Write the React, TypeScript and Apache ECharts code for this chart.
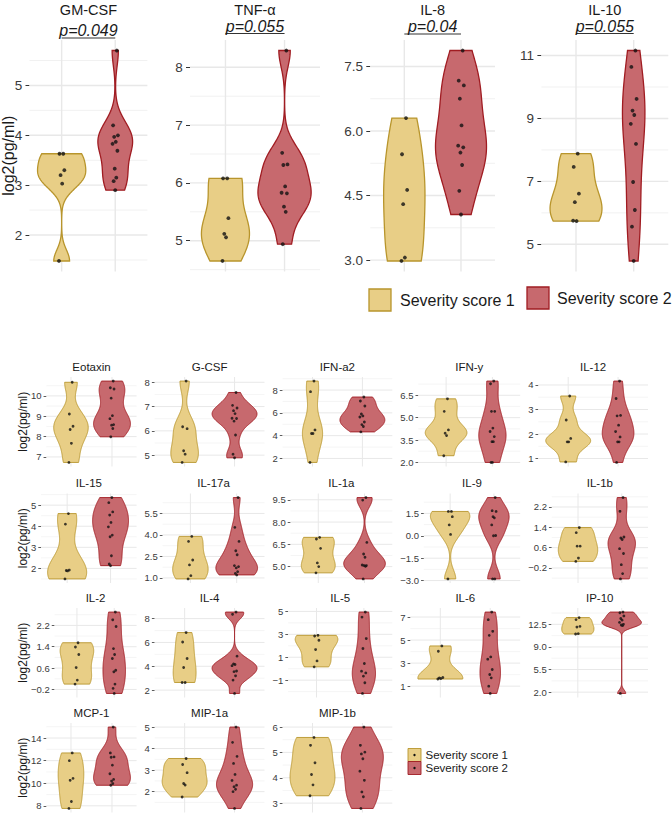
import React, { useEffect, useRef } from "react";
import * as echarts from "echarts";

const FONT = "'Liberation Sans', Arial, Helvetica, sans-serif";

// ---------------- Top figure data ----------------
const TOP_TITLES = ["GM-CSF", "TNF-α", "IL-8", "IL-10"];
const TOP_PVALUES = ["p=0.049", "p=0.055", "p=0.04", "p=0.055"];

const GMCSF_S1 = [3.63, 3.63, 3.3, 3.2, 3.03, 1.48];
const GMCSF_S2 = [5.7, 4.2, 4.0, 3.97, 3.87, 3.83, 3.69, 3.33, 3.15, 3.08, 2.9];
const GMCSF_TICKS = ["2", "3", "4", "5"];

const TNF_S1 = [6.08, 6.08, 5.39, 5.12, 5.06, 4.65];
const TNF_S2 = [8.29, 6.52, 6.32, 6.31, 5.94, 5.83, 5.82, 5.59, 5.5, 4.94];
const TNF_TICKS = ["5", "6", "7", "8"];

const IL8_S1 = [6.3, 5.46, 4.63, 4.3, 3.06, 2.98];
const IL8_S2 = [7.87, 7.17, 7.06, 6.75, 6.13, 5.66, 5.62, 5.5, 5.21, 4.61, 4.06];
const IL8_TICKS = ["3.0", "4.5", "6.0", "7.5"];

const IL10_S1 = [7.88, 7.46, 6.61, 6.34, 5.74, 5.75];
const IL10_S2 = [11.16, 10.64, 9.62, 9.25, 9.11, 8.83, 8.19, 6.98, 6.09, 5.56, 4.47];
const IL10_TICKS = ["5", "7", "9", "11"];

// ---------------- Bottom figure data ----------------
const BOTTOM_TITLES = [
  "Eotaxin", "G-CSF", "IFN-a2", "IFN-y", "IL-12",
  "IL-15", "IL-17a", "IL-1a", "IL-9", "IL-1b",
  "IL-2", "IL-4", "IL-5", "IL-6", "IP-10",
  "MCP-1", "MIP-1a", "MIP-1b",
];

const EOTAXIN_S1 = [10.67, 9.11, 8.51, 8.35, 7.67, 6.73];
const EOTAXIN_S2 = [10.73, 10.4, 10.34, 9.89, 9.03, 8.88, 8.59, 8.56, 8.4, 7.99];
const EOTAXIN_TICKS = ["7", "8", "9", "10"];

const GCSF_S1 = [8.05, 6.17, 6.09, 5.18, 5.04, 4.7];
const GCSF_S2 = [7.58, 7.05, 6.94, 6.83, 6.71, 6.52, 6.51, 6.4, 5.83, 5.04, 4.89];
const GCSF_TICKS = ["5", "6", "7", "8"];

const IFNA2_S1 = [8.79, 7.86, 4.5, 4.19, 4.19, 1.65];
const IFNA2_S2 = [7.39, 7.04, 6.6, 5.9, 5.73, 5.64, 5.2, 4.97, 4.8, 4.33];
const IFNA2_TICKS = ["2", "4", "6", "8"];

const IFNY_S1 = [6.26, 5.42, 4.18, 3.96, 3.8, 2.45];
const IFNY_S2 = [7.45, 7.27, 5.42, 5.42, 4.3, 4.07, 3.73, 3.39, 3.39, 2.0, 2.0];
const IFNY_TICKS = ["2.0", "3.5", "5.0", "6.5"];

const IL12_S1 = [3.55, 2.57, 1.82, 1.68, 1.68, 0.86];
const IL12_S2 = [4.16, 3.45, 2.76, 2.74, 2.36, 2.1, 1.88, 1.68, 1.68, 0.84];
const IL12_TICKS = ["1", "2", "3", "4"];

const IL15_S1 = [4.6, 4.1, 1.92, 1.9, 1.88, 1.5];
const IL15_S2 = [5.36, 5.12, 4.68, 4.53, 4.18, 3.97, 3.58, 3.5, 2.6, 2.21, 2.13];
const IL15_TICKS = ["2", "3", "4", "5"];

const IL17A_S1 = [3.9, 3.55, 2.25, 1.91, 1.16, 0.93];
const IL17A_S2 = [6.61, 4.53, 3.55, 2.9, 2.62, 1.86, 1.79, 1.7, 1.44, 1.32, 1.21];
const IL17A_TICKS = ["1.0", "2.5", "4.0", "5.5"];

const IL1A_S1 = [6.97, 6.86, 6.23, 5.25, 5.0, 4.58];
const IL1A_S2 = [9.65, 9.48, 6.63, 5.85, 5.63, 5.11, 5.07, 5.07, 5.02, 4.17];
const IL1A_TICKS = ["5.0", "6.5", "8.0", "9.5"];

const IL9_S1 = [1.63, 1.63, 1.28, 0.73, 0.09, -2.89];
const IL9_S2 = [2.56, 1.68, 1.63, 1.28, 1.2, 0.73, 0.02, 0.0, -2.89, -2.89];
const IL9_TICKS = ["−3.0", "−1.5", "0.0", "1.5"];

const IL1B_S1 = [1.39, 1.19, 0.66, 0.66, 0.19, 0.06];
const IL1B_S2 = [2.57, 2.03, 1.02, 0.98, 0.92, 0.56, 0.37, -0.07, -0.42, -0.63];
const IL1B_TICKS = ["−0.2", "0.6", "1.4", "2.2"];

const IL2_S1 = [1.55, 1.39, 1.11, 0.62, 0.15, 0.0];
const IL2_S2 = [2.7, 2.41, 2.16, 1.33, 1.11, 0.96, 0.52, 0.46, 0.0, -0.16, -0.35];
const IL2_TICKS = ["−0.2", "0.6", "1.4", "2.2"];

const IL4_S1 = [6.83, 6.04, 4.65, 3.9, 2.64, 2.64];
const IL4_S2 = [8.55, 8.36, 4.85, 4.2, 4.15, 4.05, 3.6, 3.55, 3.2, 2.84, 1.72];
const IL4_TICKS = ["2", "4", "6", "8"];

const IL5_S1 = [2.91, 2.85, 2.48, 1.67, 0.68, 0.16];
const IL5_S2 = [4.94, 4.5, 2.63, 1.76, 0.45, -0.22, -0.37, -0.65, -1.23, -2.16];
const IL5_TICKS = ["−1", "1", "3", "5"];

const IL6_S1 = [4.49, 4.03, 1.75, 1.72, 1.66, 1.62];
const IL6_S2 = [7.43, 6.77, 5.76, 5.41, 3.54, 3.34, 2.45, 2.01, 1.72, 1.0, 0.37];
const IL6_TICKS = ["1", "3", "5", "7"];

const IP10_S1 = [13.54, 13.23, 12.19, 12.08, 11.06, 11.0];
const IP10_S2 = [14.4, 14.3, 13.8, 13.4, 13.15, 12.8, 12.5, 12.4, 12.3, 1.8];
const IP10_TICKS = ["2.0", "5.5", "9.0", "12.5"];

const MCP1_S1 = [12.68, 12.0, 10.43, 10.26, 8.38, 7.77];
const MCP1_S2 = [14.97, 12.68, 12.33, 12.3, 11.6, 10.84, 10.34, 10.19, 9.97, 9.82];
const MCP1_TICKS = ["8", "10", "12", "14"];

const MIP1A_S1 = [3.54, 3.26, 2.88, 2.38, 2.31, 1.75];
const MIP1A_S2 = [5.0, 4.29, 3.64, 3.31, 2.8, 2.52, 2.3, 2.23, 2.11, 2.0, 1.22];
const MIP1A_TICKS = ["2", "3", "4", "5"];

const MIP1B_S1 = [5.59, 5.28, 4.59, 4.13, 3.72, 3.29];
const MIP1B_S2 = [6.0, 5.28, 5.01, 4.94, 4.75, 4.26, 3.9, 3.44, 3.25, 2.79];
const MIP1B_TICKS = ["3", "4", "5", "6"];

const LEGEND_LABELS = ["Severity score 1", "Severity score 2"];
const Y_TITLE = "log2(pg/ml)";

// small horizontal jitter pattern for dots (category units)
const JITTER = [0.03, -0.04, 0.05, -0.02, 0.01, -0.05, 0.04, -0.01, 0.02, -0.03, 0.0];

// ---------------- styling ----------------
const YELLOW_FILL = "#E8CE86";
const YELLOW_LINE = "#B8952C";
const RED_FILL = "#C7696E";
const RED_LINE = "#A01C22";
const GRID_MAJOR = "#E8E8E8";
const GRID_MINOR = "#F1F1F1";

// ---------------- layout ----------------
const TOP_LEFT = [29.5, 190, 370.3, 541.4];
const TOP_RIGHT = [147.4, 320, 495, 668.3];
const TOP_Y0 = 40;
const TOP_Y1 = 271.5;
const TOP_BRACKET_Y = [38, 33.5, 34, 33.5];

const ROW_TOP = [377, 493.5, 608, 723];
const PANEL_H = 89.5;
const COL_RIGHT = [136.6, 264.5, 392.3, 520.2, 648];
const COL0_LABEL_LEFT = 31;

const TOP_TICK_FS = 13.5;
const BOT_TICK_FS = 9.5;

function charW(c: string) {
  if (c >= "0" && c <= "9") return 0.556;
  if (c === ".") return 0.278;
  if (c === "−") return 0.584;
  if (c === "-") return 0.333;
  return 0.556;
}
function textW(s: string, fs: number) {
  let w = 0;
  for (const c of s) w += charW(c);
  return w * fs;
}
function parseTick(s: string) {
  return parseFloat(s.replace("−", "-"));
}

function bwNrd0(x: number[]) {
  const n = x.length;
  const mean = x.reduce((a, b) => a + b, 0) / n;
  const sd = Math.sqrt(x.reduce((a, b) => a + (b - mean) * (b - mean), 0) / (n - 1));
  const s = [...x].sort((a, b) => a - b);
  const q = (p: number) => {
    const h = (n - 1) * p;
    const lo = Math.floor(h);
    const hi = Math.min(lo + 1, n - 1);
    return s[lo] + (h - lo) * (s[hi] - s[lo]);
  };
  const iqr = q(0.75) - q(0.25);
  let lo = Math.min(sd, iqr / 1.34);
  if (!(lo > 0)) lo = sd || Math.abs(s[0]) || 1;
  return 0.9 * lo * Math.pow(n, -0.2);
}

function profile(x: number[], npts = 160) {
  const bw = bwNrd0(x);
  const mn = Math.min(...x);
  const mx = Math.max(...x);
  const ys: number[] = [];
  const ds: number[] = [];
  const k = 1 / (x.length * bw * Math.sqrt(2 * Math.PI));
  for (let j = 0; j < npts; j++) {
    const y = mn + ((mx - mn) * j) / (npts - 1);
    let s = 0;
    for (const xi of x) {
      const u = (y - xi) / bw;
      s += Math.exp(-0.5 * u * u);
    }
    ys.push(y);
    ds.push(s * k);
  }
  return { ys, ds };
}

type Panel = {
  title: string;
  s1: number[];
  s2: number[];
  ticks: string[];
  left: number;
  right: number;
  top: number;
  bottom: number;
  big: boolean;
  p?: string;
  bracketY?: number;
};

function buildPanels(): Panel[] {
  const panels: Panel[] = [];
  const topS1 = [GMCSF_S1, TNF_S1, IL8_S1, IL10_S1];
  const topS2 = [GMCSF_S2, TNF_S2, IL8_S2, IL10_S2];
  const topTicks = [GMCSF_TICKS, TNF_TICKS, IL8_TICKS, IL10_TICKS];
  for (let i = 0; i < 4; i++) {
    panels.push({
      title: TOP_TITLES[i],
      s1: topS1[i],
      s2: topS2[i],
      ticks: topTicks[i],
      left: TOP_LEFT[i],
      right: TOP_RIGHT[i],
      top: TOP_Y0,
      bottom: TOP_Y1,
      big: true,
      p: TOP_PVALUES[i],
      bracketY: TOP_BRACKET_Y[i],
    });
  }
  const botS1 = [
    EOTAXIN_S1, GCSF_S1, IFNA2_S1, IFNY_S1, IL12_S1,
    IL15_S1, IL17A_S1, IL1A_S1, IL9_S1, IL1B_S1,
    IL2_S1, IL4_S1, IL5_S1, IL6_S1, IP10_S1,
    MCP1_S1, MIP1A_S1, MIP1B_S1,
  ];
  const botS2 = [
    EOTAXIN_S2, GCSF_S2, IFNA2_S2, IFNY_S2, IL12_S2,
    IL15_S2, IL17A_S2, IL1A_S2, IL9_S2, IL1B_S2,
    IL2_S2, IL4_S2, IL5_S2, IL6_S2, IP10_S2,
    MCP1_S2, MIP1A_S2, MIP1B_S2,
  ];
  const botTicks = [
    EOTAXIN_TICKS, GCSF_TICKS, IFNA2_TICKS, IFNY_TICKS, IL12_TICKS,
    IL15_TICKS, IL17A_TICKS, IL1A_TICKS, IL9_TICKS, IL1B_TICKS,
    IL2_TICKS, IL4_TICKS, IL5_TICKS, IL6_TICKS, IP10_TICKS,
    MCP1_TICKS, MIP1A_TICKS, MIP1B_TICKS,
  ];
  for (let k = 0; k < BOTTOM_TITLES.length; k++) {
    const row = Math.floor(k / 5);
    const col = k % 5;
    const labelW = Math.max(...botTicks[k].map((t) => textW(t, BOT_TICK_FS)));
    const base = col === 0 ? COL0_LABEL_LEFT : COL_RIGHT[col - 1] + 8;
    panels.push({
      title: BOTTOM_TITLES[k],
      s1: botS1[k],
      s2: botS2[k],
      ticks: botTicks[k],
      left: base + labelW + 4.8,
      right: COL_RIGHT[col],
      top: ROW_TOP[row],
      bottom: ROW_TOP[row] + PANEL_H,
      big: false,
    });
  }
  return panels;
}

function buildOption() {
  const panels = buildPanels();
  const grid: any[] = [];
  const xAxis: any[] = [];
  const yAxis: any[] = [];
  const series: any[] = [];
  const graphic: any[] = [];

  panels.forEach((p, i) => {
    const all = p.s1.concat(p.s2);
    const lo = Math.min(...all);
    const hi = Math.max(...all);
    const ext = (hi - lo) * 0.05;
    const ymin = lo - ext;
    const ymax = hi + ext;
    const mid = (ymin + ymax) / 2;
    const tickVals = p.ticks.map(parseTick);
    const step = tickVals[1] - tickVals[0];
    const minor: number[] = [];
    for (let t = tickVals[0] - step / 2; t <= tickVals[tickVals.length - 1] + step / 2 + 1e-9; t += step) {
      if (t >= ymin && t <= ymax) minor.push(t);
    }
    const big = p.big;

    grid.push({
      left: p.left,
      top: p.top,
      width: p.right - p.left,
      height: p.bottom - p.top,
      containLabel: false,
      outerBoundsMode: "none",
    });
    xAxis.push({ type: "value", gridIndex: i, min: 0.4, max: 2.6, show: false });
    yAxis.push({
      type: "value",
      gridIndex: i,
      min: ymin,
      max: ymax,
      axisLine: { show: false },
      splitLine: { show: false },
      minorTick: { show: false },
      axisTick: {
        show: true,
        length: big ? 4 : 2.8,
        customValues: tickVals,
        lineStyle: { color: "#333333", width: big ? 1 : 0.8 },
      },
      axisLabel: {
        customValues: tickVals,
        margin: big ? 7.3 : 4.8,
        fontSize: big ? TOP_TICK_FS : BOT_TICK_FS,
        fontFamily: FONT,
        color: "#3A3A3A",
        formatter: (v: number) => {
          let best = 0;
          let bd = Infinity;
          tickVals.forEach((t, j) => {
            const d = Math.abs(t - v);
            if (d < bd) {
              bd = d;
              best = j;
            }
          });
          return p.ticks[best];
        },
      },
    });

    // gridlines
    series.push({
      type: "custom",
      xAxisIndex: i,
      yAxisIndex: i,
      silent: true,
      z: 1,
      data: [[1.5, mid]],
      renderItem: (params: any, api: any) => {
        const cs = params.coordSys;
        const children: any[] = [];
        minor.forEach((v) => {
          const y = api.coord([1, v])[1];
          children.push({
            type: "line",
            shape: { x1: cs.x, y1: y, x2: cs.x + cs.width, y2: y },
            style: { stroke: GRID_MINOR, lineWidth: big ? 1 : 0.7 },
          });
        });
        tickVals.forEach((v) => {
          const y = api.coord([1, v])[1];
          children.push({
            type: "line",
            shape: { x1: cs.x, y1: y, x2: cs.x + cs.width, y2: y },
            style: { stroke: GRID_MAJOR, lineWidth: big ? 1.4 : 1 },
          });
        });
        [1, 2].forEach((c) => {
          const x = api.coord([c, mid])[0];
          children.push({
            type: "line",
            shape: { x1: x, y1: cs.y, x2: x, y2: cs.y + cs.height },
            style: { stroke: GRID_MAJOR, lineWidth: big ? 1.4 : 1 },
          });
        });
        return { type: "group", children };
      },
    });

    // violins (ggplot style: gaussian kde, bw.nrd0, trimmed, scale = "area")
    const profs = [profile(p.s1), profile(p.s2)];
    const maxD = Math.max(...profs[0].ds, ...profs[1].ds);
    const fills = [YELLOW_FILL, RED_FILL];
    const strokes = [YELLOW_LINE, RED_LINE];
    series.push({
      type: "custom",
      xAxisIndex: i,
      yAxisIndex: i,
      silent: true,
      z: 2,
      data: [
        [1, mid],
        [2, mid],
      ],
      renderItem: (params: any, api: any) => {
        const g = params.dataIndex;
        const pr = profs[g];
        const cx = g + 1;
        const leftPts = pr.ys.map((y, j) => api.coord([cx - (0.45 * pr.ds[j]) / maxD, y]));
        const rightPts = pr.ys.map((y, j) => api.coord([cx + (0.45 * pr.ds[j]) / maxD, y])).reverse();
        return {
          type: "polygon",
          shape: { points: leftPts.concat(rightPts) },
          style: { fill: fills[g], stroke: strokes[g], lineWidth: big ? 1.3 : 0.9 },
        };
      },
    });

    // points
    [p.s1, p.s2].forEach((arr, g) => {
      series.push({
        type: "scatter",
        xAxisIndex: i,
        yAxisIndex: i,
        silent: true,
        z: 3,
        symbol: "circle",
        symbolSize: big ? 3.8 : 2.8,
        itemStyle: { color: "#111111" },
        data: arr.map((v, k) => [g + 1 + JITTER[k % JITTER.length], v]),
      });
    });

    // significance bracket
    if (p.p) {
      const pText = p.p;
      const by = p.bracketY as number;
      series.push({
        type: "custom",
        xAxisIndex: i,
        yAxisIndex: i,
        silent: true,
        z: 4,
        clip: false,
        data: [[1.5, mid]],
        renderItem: (params: any, api: any) => {
          const x1 = api.coord([1, mid])[0];
          const x2 = api.coord([2, mid])[0];
          return {
            type: "group",
            children: [
              {
                type: "line",
                shape: { x1, y1: by, x2, y2: by },
                style: { stroke: "#333333", lineWidth: 1.2 },
              },
              {
                type: "text",
                x: (x1 + x2) / 2,
                y: by + 0.5,
                style: {
                  text: pText,
                  fill: "#1A1A1A",
                  fontSize: 16,
                  fontStyle: "italic",
                  fontFamily: FONT,
                  textAlign: "center",
                  textVerticalAlign: "bottom",
                  align: "center",
                  verticalAlign: "bottom",
                },
              },
            ],
          };
        },
      });
    }

    // title
    graphic.push({
      type: "text",
      x: (p.left + p.right) / 2,
      y: big ? 10 : p.top - 10.5,
      silent: true,
      style: {
        text: p.title,
        fill: "#1A1A1A",
        fontSize: big ? 14.5 : 11.5,
        fontFamily: FONT,
        textAlign: "center",
        textVerticalAlign: "middle",
        align: "center",
        verticalAlign: "middle",
      },
    });
  });

  // y-axis titles
  const yTitles = [{ x: 8.5, y: (TOP_Y0 + TOP_Y1) / 2, fs: 16 }].concat(
    ROW_TOP.map((t) => ({ x: 22.5, y: t + PANEL_H / 2, fs: 12 }))
  );
  yTitles.forEach((t) => {
    graphic.push({
      type: "text",
      x: t.x,
      y: t.y,
      rotation: Math.PI / 2,
      silent: true,
      style: {
        text: Y_TITLE,
        fill: "#1A1A1A",
        fontSize: t.fs,
        fontFamily: FONT,
        textAlign: "center",
        textVerticalAlign: "middle",
        align: "center",
        verticalAlign: "middle",
      },
    });
  });

  // top legend
  const topKeys = [
    { x: 369, y: 289, tx: 400, ty: 300, fill: YELLOW_FILL, stroke: YELLOW_LINE },
    { x: 527, y: 287, tx: 557, ty: 298, fill: RED_FILL, stroke: RED_LINE },
  ];
  topKeys.forEach((k, j) => {
    graphic.push({
      type: "rect",
      silent: true,
      shape: { x: k.x, y: k.y, width: 22, height: 22 },
      style: { fill: k.fill, stroke: k.stroke, lineWidth: 1.3 },
    });
    graphic.push({
      type: "text",
      x: k.tx,
      y: k.ty,
      silent: true,
      style: {
        text: LEGEND_LABELS[j],
        fill: "#1A1A1A",
        fontSize: 16,
        fontFamily: FONT,
        textAlign: "left",
        textVerticalAlign: "middle",
        align: "left",
        verticalAlign: "middle",
      },
    });
  });

  // bottom legend
  const botKeys = [
    { y: 748.5, fill: YELLOW_FILL, stroke: YELLOW_LINE },
    { y: 761.5, fill: RED_FILL, stroke: RED_LINE },
  ];
  botKeys.forEach((k, j) => {
    graphic.push({
      type: "rect",
      silent: true,
      shape: { x: 408, y: k.y, width: 13, height: 13 },
      style: { fill: k.fill, stroke: k.stroke, lineWidth: 0.9 },
    });
    graphic.push({
      type: "circle",
      silent: true,
      shape: { cx: 414.5, cy: k.y + 6.5, r: 1.2 },
      style: { fill: "#111111" },
    });
    graphic.push({
      type: "text",
      x: 425.5,
      y: k.y + 6.5,
      silent: true,
      style: {
        text: LEGEND_LABELS[j],
        fill: "#1A1A1A",
        fontSize: 11.5,
        fontFamily: FONT,
        textAlign: "left",
        textVerticalAlign: "middle",
        align: "left",
        verticalAlign: "middle",
      },
    });
  });

  return {
    animation: false,
    backgroundColor: "#FFFFFF",
    textStyle: { fontFamily: FONT },
    grid,
    xAxis,
    yAxis,
    series,
    graphic,
  };
}

export default function App() {
  const ref = useRef<HTMLDivElement>(null);
  useEffect(() => {
    document.body.style.margin = "0";
    if (!ref.current) return;
    const chart = echarts.init(ref.current, undefined, { renderer: "svg" });
    chart.setOption(buildOption() as any);
    return () => {
      chart.dispose();
    };
  }, []);
  return <div ref={ref} style={{ width: 672, height: 819 }} />;
}
